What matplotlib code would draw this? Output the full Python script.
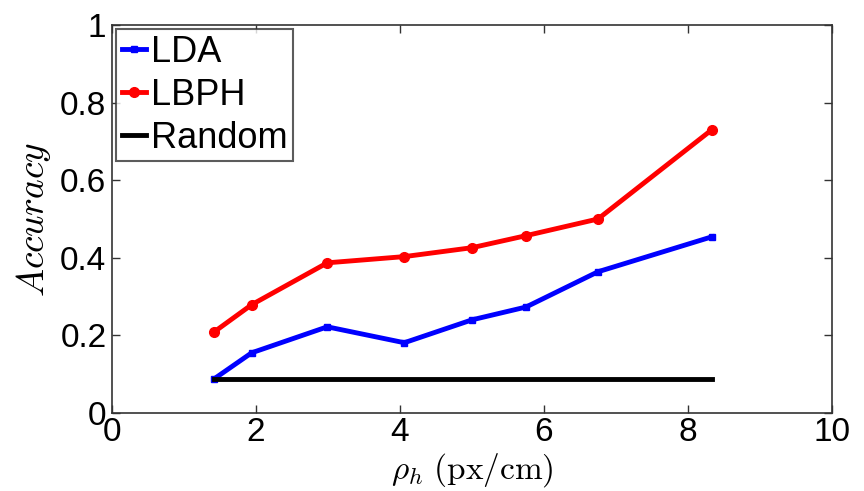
import matplotlib
matplotlib.use("Agg")
import matplotlib.pyplot as plt

rho = [1.42, 1.94, 2.99, 4.06, 5.0, 5.75, 6.75, 8.33]
lda = [0.088, 0.155, 0.222, 0.181, 0.240, 0.273, 0.364, 0.454]
lbph = [0.209, 0.279, 0.387, 0.403, 0.426, 0.457, 0.500, 0.730]
random_acc = [0.088, 0.088]
random_x = [1.42, 8.33]

plt.rcParams['font.family'] = ['Liberation Sans', 'DejaVu Sans']
plt.rcParams['mathtext.fontset'] = 'cm'

fig = plt.figure(figsize=(8.64, 4.91), dpi=100)
ax = fig.add_axes([0.1296, 0.159, 0.8334, 0.790])

ax.plot(rho, lda, color='#0000ff', lw=3.5, marker='s', ms=4.5, label='LDA')
ax.plot(rho, lbph, color='#ff0000', lw=3.5, marker='o', ms=7, label='LBPH')
ax.plot(random_x, random_acc, color='black', lw=3.5, label='Random')

ax.set_xlim(0, 10)
ax.set_ylim(0, 1)
ax.set_xticks([0, 2, 4, 6, 8, 10])
ax.set_yticks([0, 0.2, 0.4, 0.6, 0.8, 1])
ax.set_yticklabels(['0', '0.2', '0.4', '0.6', '0.8', '1'])
ax.tick_params(direction='in', top=True, right=True, labelsize=24, length=6, width=1, pad=3, colors='#333333', labelcolor='black')
ax.tick_params(axis='y', pad=4)
for s in ax.spines.values():
    s.set_color('#333333')
    s.set_linewidth(1.2)

ax.set_xlabel(r'$\rho_h\ \mathrm{(px/cm)}$', fontsize=24, labelpad=2)
ax.set_ylabel(r'$Accuracy$', fontsize=27, labelpad=5)

leg = ax.legend(loc='upper left', fontsize=26, frameon=True, fancybox=False,
                handlelength=0.67, handletextpad=0.15, borderpad=0.15, labelspacing=0.22,
                borderaxespad=0.12)
leg.get_frame().set_edgecolor('#333333')
leg.get_frame().set_linewidth(1.5)

fig.savefig('out.png', dpi=100)
